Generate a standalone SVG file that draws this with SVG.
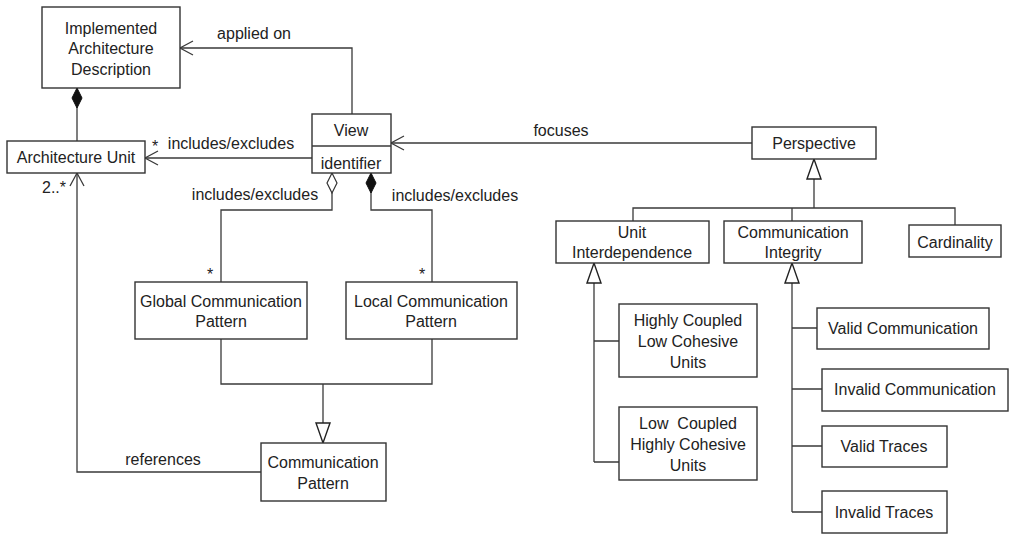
<svg xmlns="http://www.w3.org/2000/svg" width="1009" height="534" viewBox="0 0 1009 534">
<style>
.box{fill:#fff;stroke:#333;stroke-width:1.4}
.ln{fill:none;stroke:#3a3a3a;stroke-width:1.3}
text{font-family:"Liberation Sans",Arial,sans-serif;font-size:16px;fill:#222;text-anchor:middle;dominant-baseline:central}
.pre{white-space:pre}
</style>
<defs>
<marker id="open" markerUnits="userSpaceOnUse" markerWidth="16" markerHeight="16" viewBox="0 0 16 16" refX="14" refY="8" orient="auto" overflow="visible"><path d="M1,1 L14,8 L1,15" fill="none" stroke="#3a3a3a" stroke-width="1.3"/></marker>
<marker id="tri" markerUnits="userSpaceOnUse" markerWidth="22" markerHeight="16" viewBox="0 0 22 16" refX="21" refY="8" orient="auto" overflow="visible"><path d="M1,1 L21,8 L1,15 Z" fill="#fff" stroke="#222" stroke-width="1.4"/></marker>
<marker id="dF" markerUnits="userSpaceOnUse" markerWidth="22" markerHeight="12" viewBox="0 0 22 12" refX="21" refY="6" orient="auto" overflow="visible"><path d="M1,6 L11,1 L21,6 L11,11 Z" fill="#111" stroke="#111" stroke-width="1"/></marker>
<marker id="dH" markerUnits="userSpaceOnUse" markerWidth="22" markerHeight="12" viewBox="0 0 22 12" refX="21" refY="6" orient="auto" overflow="visible"><path d="M1,6 L11,1 L21,6 L11,11 Z" fill="#fff" stroke="#333" stroke-width="1.2"/></marker>
</defs>
<rect width="1009" height="534" fill="#fff"/>
<g id="connectors">
<path class="ln" d="M77,141 L77,88" marker-end="url(#dF)"/>
<path class="ln" d="M352,114 L352,48 L180,48" marker-end="url(#open)"/>
<path class="ln" d="M312,158 L145,158" marker-end="url(#open)"/>
<path class="ln" d="M752,143 L391,143" marker-end="url(#open)"/>
<path class="ln" d="M221,282 L221,210 L332,210 L332,173" marker-end="url(#dH)"/>
<path class="ln" d="M432,282 L432,210 L371,210 L371,173" marker-end="url(#dF)"/>
<path class="ln" d="M221,339 L221,384 L432,384 L432,339"/>
<path class="ln" d="M323,384 L323,443" marker-end="url(#tri)"/>
<path class="ln" d="M261,472 L77,472 L77,173" marker-end="url(#open)"/>
<path class="ln" d="M633,221 L633,208 L955,208 L955,225 M792,208 L792,221"/>
<path class="ln" d="M814,208 L814,159" marker-end="url(#tri)"/>
<path class="ln" d="M594,462 L594,263" marker-end="url(#tri)"/>
<path class="ln" d="M594,341 L619,341 M594,462 L619,462"/>
<path class="ln" d="M792,512 L792,263" marker-end="url(#tri)"/>
<path class="ln" d="M792,328 L817,328 M792,389 L822,389 M792,446 L822,446 M792,512 L822,512"/>
<text x="254" y="33">applied on</text>
<text x="231" y="143">includes/excludes</text>
<text x="155" y="146">*</text>
<text x="54" y="187">2..*</text>
<text x="561" y="130">focuses</text>
<text x="255" y="194">includes/excludes</text>
<text x="455" y="195">includes/excludes</text>
<text x="210" y="274">*</text>
<text x="422" y="274">*</text>
<text x="163" y="459">references</text>
</g>
<g id="iad"><rect class="box" x="42" y="7" width="138" height="81"/><text x="111" y="28">Implemented</text><text x="111" y="48">Architecture</text><text x="111" y="69">Description</text></g>
<g id="au"><rect class="box" x="7" y="141" width="138" height="32"/><text x="76" y="157">Architecture Unit</text></g>
<g id="view"><rect class="box" x="312" y="114" width="79" height="59"/><line class="ln" x1="312" y1="146" x2="391" y2="146"/><text x="351" y="130">View</text><text x="351" y="163">identifier</text></g>
<g id="gcp"><rect class="box" x="135" y="282" width="172" height="57"/><text x="221" y="301">Global Communication</text><text x="221" y="321">Pattern</text></g>
<g id="lcp"><rect class="box" x="346" y="282" width="171" height="57"/><text x="431" y="301">Local Communication</text><text x="431" y="321">Pattern</text></g>
<g id="cp"><rect class="box" x="261" y="443" width="125" height="58"/><text x="323" y="462">Communication</text><text x="323" y="483">Pattern</text></g>
<g id="perspective"><rect class="box" x="752" y="127" width="124" height="32"/><text x="814" y="143">Perspective</text></g>
<g id="ui"><rect class="box" x="556" y="221" width="153" height="42"/><text x="632" y="232">Unit</text><text x="632" y="252">Interdependence</text></g>
<g id="ci"><rect class="box" x="724" y="221" width="138" height="42"/><text x="793" y="232">Communication</text><text x="793" y="252">Integrity</text></g>
<g id="card"><rect class="box" x="909" y="225" width="92" height="32"/><text x="955" y="242">Cardinality</text></g>
<g id="hclcu"><rect class="box" x="619" y="304" width="138" height="73"/><text x="688" y="320">Highly Coupled</text><text x="688" y="341">Low Cohesive</text><text x="688" y="362">Units</text></g>
<g id="lchcu"><rect class="box" x="619" y="407" width="138" height="73"/><text class="pre" x="688" y="423">Low  Coupled</text><text x="688" y="444">Highly Cohesive</text><text x="688" y="465">Units</text></g>
<g id="vc"><rect class="box" x="817" y="308" width="172" height="41"/><text x="903" y="328">Valid Communication</text></g>
<g id="ic"><rect class="box" x="822" y="369" width="186" height="42"/><text x="915" y="389">Invalid Communication</text></g>
<g id="vt"><rect class="box" x="822" y="426" width="125" height="41"/><text x="884" y="446">Valid Traces</text></g>
<g id="it"><rect class="box" x="822" y="491" width="125" height="42"/><text x="884" y="512">Invalid Traces</text></g>
</svg>
